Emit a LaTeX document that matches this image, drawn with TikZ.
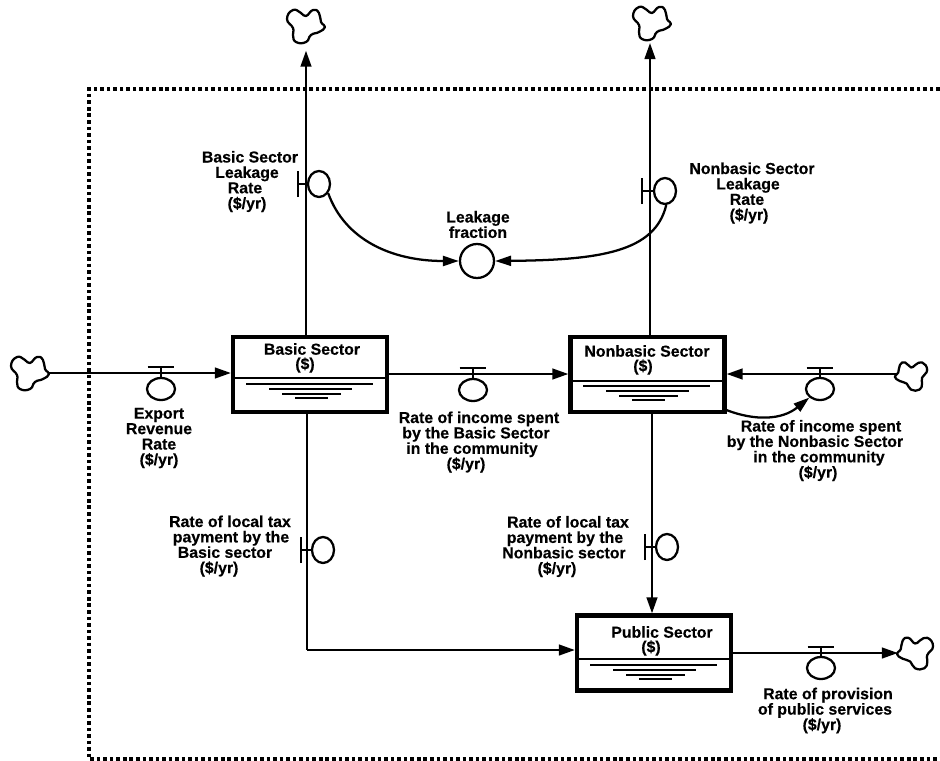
\documentclass[tikz,border=0pt]{standalone}
\usepackage{fontspec}
\setmainfont{Liberation Sans}[BoldFeatures={FakeBold=0.35}]
\usetikzlibrary{arrows.meta,shapes.geometric}
\newcommand\sft[1]{\hspace*{\dimexpr #1pt*3/2\relax}}
\tikzset{
  ink/.style={draw=black,line width=1.7pt},
  flow/.style={ink,-{Triangle[length=12pt,width=8pt]}},
  plainflow/.style={ink},
  influence/.style={ink,-{Triangle[length=12pt,width=7.5pt]}},
  stock/.style={draw=black,line width=3.2pt,rectangle,minimum width=115.5pt,minimum height=56.25pt,inner sep=0pt,fill=none},
  divider/.style={draw=black,line width=1.2pt},
  water/.style={draw=black,line width=1.6pt},
  valve/.style={ink,ellipse,inner sep=0pt,minimum width=#1},
  hvalve/.style={valve=21pt,minimum height=16.5pt},
  vvalve/.style={valve=16.5pt,minimum height=19.5pt},
  aux/.style={ink,circle,inner sep=0pt,minimum size=25.5pt},
  txt/.style={font=\fontsize{11.9}{11.55}\selectfont\bfseries,align=center,inner sep=0pt},
  frame/.style={draw=black,line width=2.7pt,dash pattern=on 2.7pt off 2.2pt},
  sink/.style={circle,inner sep=0pt,outer sep=0pt,minimum size=#1}
}
\newcommand\cloudsink[4]{% name, position, scale, xscale
  \node[sink=#3*27pt] (#1) at (#2) {};
  \begin{scope}[shift={(#1.center)},scale=#3,xscale=#4]
    \draw[ink,line join=round] plot[smooth cycle,tension=0.9] coordinates {(-19,-7)(-13,-16)(-5,-13)(0,-10)(7,-16)(13,-13)(15,-4)(19,1)(13,6)(5,9)(0,16)(-10,16)(-13,9)(-13,2)};
  \end{scope}}
\newcommand\waterlines[2]{% left end, top line
  \draw[water] (#1,#2) -- ++(127,0);
  \draw[water] (#1+23,#2+5) -- ++(83,0);
  \draw[water] (#1+36,#2+10) -- ++(59,0);
  \draw[water] (#1+49,#2+14) -- ++(33,0);}
\begin{document}
\begin{tikzpicture}[x=0.75pt,y=-0.75pt]
\fill[white] (0,0) rectangle (940,761);
\useasboundingbox (0,0) rectangle (940,761);

% system boundary
\draw[frame] (940,89) -- (89,89) -- (89,759) -- (940,759);

% stocks
\node[stock] (basic) at (310,374.5) {};
\node[stock] (nonbasic) at (647.5,374.5) {};
\node[stock] (public) at (654,653) {};
\draw[divider] (basic.west |- 0,378) -- (basic.east |- 0,378);
\draw[divider] (nonbasic.west |- 0,381) -- (nonbasic.east |- 0,381);
\draw[divider] (public.west |- 0,659) -- (public.east |- 0,659);
\waterlines{246}{384}
\waterlines{583}{386}
\waterlines{590}{665}

% clouds
\cloudsink{left}{30,373}{1}{1}
\cloudsink{topb}{306,26}{1}{1}
\cloudsink{topn}{652,23}{1}{1}
\cloudsink{right}{911,376}{0.85}{-1}
\cloudsink{bottom}{915,653}{0.95}{-1}

% aux
\node[aux] (leak) at (477,261) {};

% valves
\node[hvalve] (ve) at (161,389) {};
\node[hvalve] (vb) at (473,390) {};
\node[hvalve] (vn) at (820,389) {};
\node[hvalve] (vp) at (821,668) {};
\node[vvalve] (lb) at (319,184) {};
\node[vvalve] (ln) at (665,191) {};
\node[vvalve] (tb) at (323,550) {};
\node[vvalve] (tn) at (667,547) {};
\foreach \v/\by in {ve/367,vb/368,vn/368,vp/647}{
  \coordinate (bar) at (\v |- 0,\by);
  \draw[ink] (\v.north) -- (bar);
  \draw[ink] ([xshift=-10pt]bar) -- ([xshift=10pt]bar);
}
\foreach \v/\bx in {lb/298,ln/642,tb/301,tn/645}{
  \coordinate (bar) at (\bx,0 |- \v);
  \draw[ink] (\v.west) -- (bar);
  \draw[ink] ([yshift=-9.75pt]bar) -- ([yshift=9.75pt]bar);
}

% flows
\coordinate (xb) at (306,0);
\coordinate (xn) at (650,0);
\coordinate (xtb) at (307,650);
\coordinate (xtn) at (652,0);
\coordinate (ybn) at (0,374);
\draw[flow] (left.east) -- (left -| basic.west);
\draw[flow] (basic.east |- ybn) -- (nonbasic.west |- ybn);
\draw[flow] (right.west |- ybn) -- (nonbasic.east |- ybn);
\draw[flow,shorten >=5pt] (xb |- basic.north) -- (xb |- topb.south);
\draw[flow,shorten >=1.5pt] (xn |- nonbasic.north) -- (xn |- topn.south);
\draw[plainflow] (xtb |- basic.south) -- (xtb);
\draw[flow] (xtb) -- (xtb -| public.west);
\draw[flow] (xtn |- nonbasic.south) -- (xtn |- public.north);
\draw[flow] (public.east) -- (bottom.west);

% influences
\draw[influence] (lb.-45) .. controls (345,240) and (392,261) .. (leak.west);
\draw[influence] (ln.-85) .. controls (655,252) and (600,260) .. (leak.east);
\draw[influence] ([yshift=3pt]nonbasic.south east) .. controls (755,421) and (782,420) .. (vn.south west);

% labels
\node[txt] (tbasic) at (312,349) {Basic Sector};
\node[txt] (ubasic) at (305,365) {(\$)};
\node[txt] (tnon) at (647,351) {Nonbasic Sector};
\node[txt] (unon) at (643,367) {(\$)};
\node[txt] (tpub) at (662,632) {Public Sector};
\node[txt] (upub) at (651,648) {(\$)};
\node[txt] (lexp) at (159,438) {Export\\Revenue\\Rate\\(\$/yr)};
\node[txt] (lbl) at (247,181.5) {\sft{3}Basic Sector\\Leakage\\\sft{-2}Rate\\(\$/yr)};
\node[txt] (lnl) at (749,193) {\sft{3}Nonbasic Sector\\\sft{-1}Leakage\\\sft{-2}Rate\\(\$/yr)};
\node[txt] (lfr) at (478,224.5) {Leakage\\fraction};
\node[txt] (lib) at (475,442) {\sft{4}Rate of income spent\\\sft{1}by the Basic Sector\\\sft{-3}in the community\\\sft{-9}(\$/yr)};
\node[txt] (lin) at (818,450.5) {\sft{3}Rate of income spent\\\sft{-3}by the Nonbasic Sector\\\sft{1}in the community\\(\$/yr)};
\node[txt] (ltb) at (228,546) {\sft{2}Rate of local tax\\\sft{3}payment by the\\\sft{-3}Basic sector\\\sft{-9}(\$/yr)};
\node[txt] (ltn) at (565,546.5) {\sft{3}Rate of local tax\\payment by the\\\sft{-1}Nonbasic sector\\\sft{-8}(\$/yr)};
\node[txt] (lpr) at (825,710.5) {\sft{3}Rate of provision\\of public services\\\sft{-3}(\$/yr)};
\end{tikzpicture}
\end{document}
